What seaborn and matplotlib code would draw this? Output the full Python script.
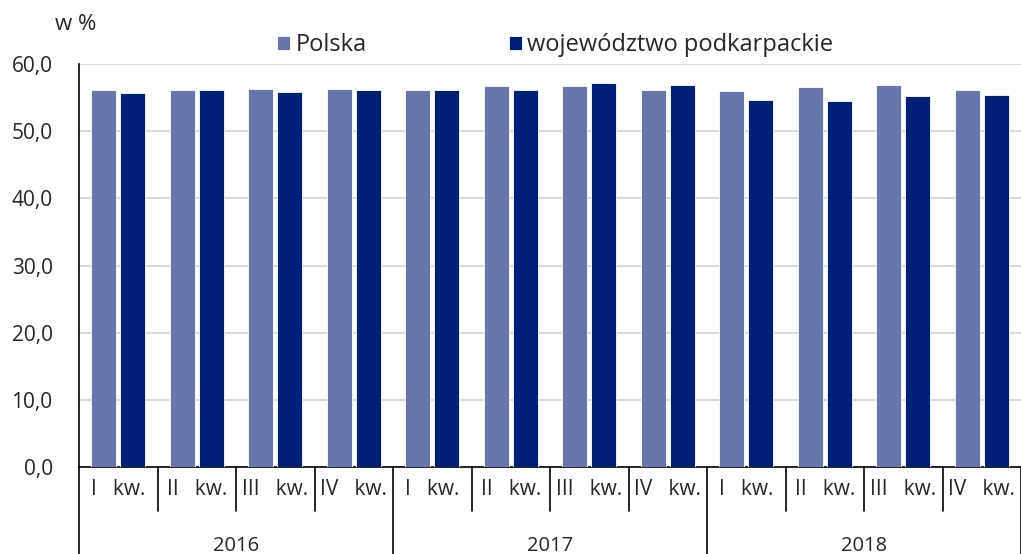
import numpy as np
import pandas as pd
import matplotlib
matplotlib.use("Agg")
import matplotlib.pyplot as plt
import matplotlib.transforms as mtransforms
import seaborn as sns

years = ["2016", "2017", "2018"]
quarters = ["I   kw.", "II   kw.", "III   kw.", "IV   kw."]
series = ["Polska", "województwo podkarpackie"]
polska = [56.1, 56.2, 56.3, 56.3, 56.2, 56.7, 56.7, 56.2, 56.0, 56.5, 56.8, 56.1]
podkarpackie = [55.7, 56.1, 55.8, 56.1, 56.2, 56.1, 57.1, 56.9, 54.7, 54.5, 55.2, 55.4]
colors = ["#6777AD", "#001F77"]

periods = [f"{y} {q}" for y in years for q in quarters]
df = pd.DataFrame({
    "okres": periods * 2,
    "seria": [series[0]] * len(periods) + [series[1]] * len(periods),
    "wartosc": polska + podkarpackie,
})

sns.set_style("white")
plt.rcParams["font.family"] = ["Open Sans", "DejaVu Sans"]

fig = plt.figure(figsize=(10.21, 5.54), dpi=100)
ax = fig.add_axes([0.0774, 0.157, 0.9226, 0.7275])

sns.barplot(data=df, x="okres", y="wartosc", hue="seria", palette=colors,
            width=0.74, gap=0.14, saturation=1, edgecolor="white", linewidth=0.6,
            ax=ax, zorder=3)

ax.set_ylim(0, 60)
ax.set_xlim(-0.5, len(periods) - 0.5)
ax.set_yticks(np.arange(0, 61, 10))
ax.set_yticklabels([f"{v:.1f}".replace(".", ",") for v in np.arange(0, 61, 10)], fontsize=15)
ax.tick_params(axis="y", length=0, pad=19)
ax.set_xticks([])
ax.set_xlabel("")
ax.set_ylabel("")
ax.grid(axis="y", color="#D9D9D9", linewidth=1.5, zorder=0)
for s in ["top", "right"]:
    ax.spines[s].set_visible(False)
ax.spines["left"].set_color("black")
ax.spines["bottom"].set_color("black")
ax.spines["left"].set_linewidth(1.2)
ax.spines["bottom"].set_linewidth(1.2)

# category axis: quarter and year rows
trans = mtransforms.blended_transform_factory(ax.transData, ax.transAxes)
for i in range(len(periods) + 1):
    x = i - 0.5
    low = -0.217 if i % 4 == 0 else -0.11
    ax.plot([x, x], [0, low], color="black", lw=1.2, transform=trans, clip_on=False)
for i, p in enumerate(periods):
    ax.text(i, -0.055, quarters[i % 4], transform=trans, ha="center", va="center", fontsize=15)
for j, y in enumerate(years):
    ax.text(j * 4 + 1.5, -0.195, y, transform=trans, ha="center", va="center", fontsize=14.5)

fig.text(0.054, 0.955, "w %", fontsize=16, ha="left", va="center")

sns.move_legend(ax, "center left", bbox_to_anchor=(0.21, 1.047), ncol=2, frameon=False,
                title=None, fontsize=17, handlelength=0.55, handleheight=0.55,
                handletextpad=0.25, columnspacing=6.0, borderpad=0, borderaxespad=0)

fig.savefig("out.png", dpi=100)
